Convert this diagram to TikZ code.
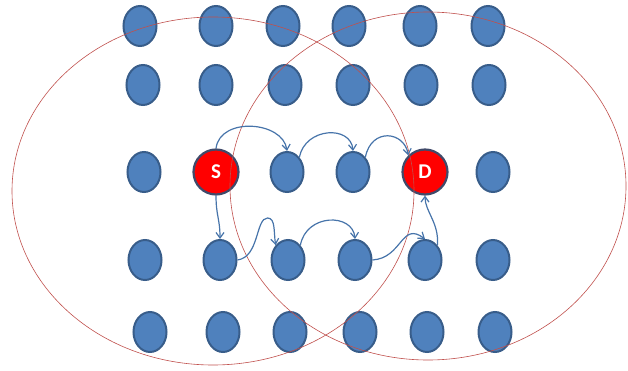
\documentclass[tikz,border=0pt]{standalone}
\usepackage{xcolor}
\usepackage{fontspec}
\setsansfont{Carlito}
\usetikzlibrary{arrows.meta,shapes.geometric}
\definecolor{hopblue}{HTML}{4F81BD}
\definecolor{hopedge}{HTML}{385D8A}
\definecolor{rangered}{HTML}{C0504D}
\definecolor{endred}{HTML}{FF0000}
\definecolor{endedge}{HTML}{404A6A}

\begin{document}
\begin{tikzpicture}[
  x=1pt,y=1pt,
  >={Straight Barb[length=5.5pt,width=8pt]},
  hop/.style={ellipse,draw=hopedge,line width=2pt,fill=hopblue,
    minimum width=33pt,minimum height=40pt,inner sep=0pt},
  endpt/.style={circle,draw=endedge,line width=2.2pt,fill=endred,
    minimum size=45pt,inner sep=0pt,text=white,
    font=\sffamily\bfseries\fontsize{21}{21}\selectfont},
  link/.style={hopblue!90!black,line width=1.2pt,->},
  coverage/.style={rangered,line width=0.6pt}
]
  \useasboundingbox (0,0) rectangle (628,370);
  % grid of nodes
  \foreach \n/\x in {1/140,2/216,3/283,4/349,5/420,6/488}
    \node[hop] (n1\n) at (\x,344) {};
  \foreach \n/\x in {1/143,2/216,3/285,4/353,5/421,6/489}
    \node[hop] (n2\n) at (\x,285) {};
  \foreach \n/\x in {1/144,3/287,4/353,6/493}
    \node[hop] (n3\n) at (\x,198) {};
  \foreach \n/\x in {1/145,2/220,3/288,4/355,5/425,6/493}
    \node[hop] (n4\n) at (\x,110) {};
  \foreach \n/\x in {1/150,2/223,3/290,4/360,5/427,6/495}
    \node[hop] (n5\n) at (\x,38) {};
  \node[endpt] (src) at (216,198) {S};
  \node[endpt] (dst) at (425,198) {D};
  % transmission ranges
  \draw[coverage] (213,179) ellipse [x radius=201,y radius=174];
  \draw[coverage] (428,184) ellipse [x radius=198,y radius=174];
  % upper route
  \draw[link] (src.north) .. controls +(4,32) and +(-4,30) .. (n33.north);
  \draw[link] (n33.north east) .. controls +(6,30) and +(-2,26) .. (n34.north);
  \draw[link] (n34.north east) .. controls +(6,30) and +(-4,24) .. (dst.north west);
  % lower route
  \draw[link] (src.south) .. controls +(0,-20) and +(0,20) .. (n42.north);
  \draw[link] (n42.east) .. controls +(22,3) and +(-12,0) .. ++(30,42)
    .. controls +(8,0) and +(-2,14) .. (n43.north west);
  \draw[link] (n43.north east) .. controls +(6,32) and +(-2,26) .. (n44.north);
  \draw[link] (n44.east) .. controls +(30,2) and +(-24,18) .. (n45.north);
  \draw[link] (n45.north east) .. controls +(2,22) and +(0,-16) .. (dst.south);
\end{tikzpicture}
\end{document}
